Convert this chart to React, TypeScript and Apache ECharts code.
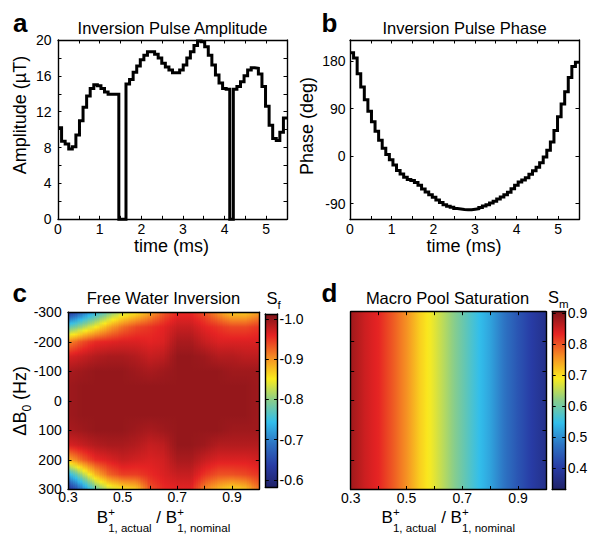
import React, { useEffect, useRef } from "react";
import * as echarts from "echarts";

const FONT = "'Liberation Sans', Arial, Helvetica, sans-serif";

// ---------------- Panel a / b : inversion pulse (64 samples over 5.5 ms) ----------------
const pulseDurationMs = 5.5;
const amplitudeUT = [
  10.2, 8.7, 8.4, 7.85, 8.1, 9.4, 11.0, 12.5, 13.75, 14.6, 15.0, 14.9, 14.6, 14.2, 13.95, 13.95,
  13.95, 0, 0, 15.1, 15.6, 16.4, 17.1, 17.8, 18.3, 18.7, 18.7, 18.4, 18.0, 17.4, 17.0, 16.65,
  16.35, 16.35, 16.65, 17.2, 18.0, 18.7, 19.4, 19.9, 19.8, 19.25, 18.3, 17.2, 16.1, 15.2, 14.6, 14.5,
  0, 14.5, 14.8, 15.35, 16.0, 16.65, 16.9, 16.85, 16.2, 14.8, 12.6, 10.5, 9.0, 8.8, 9.7, 11.3,
];
const phaseDeg = [
  196, 186, 156, 131, 107, 85, 65, 47, 30, 15, 3, -7, -17, -27, -34, -40,
  -44, -46, -50, -55, -62, -68, -73, -78, -83, -88, -92, -95, -97, -99, -100, -101,
  -101.5, -101.5, -100.5, -99.5, -97.3, -94.5, -91.9, -88.7, -85.3, -81.4, -77.3, -72.9, -68.4, -61.6, -54.9, -49,
  -45.2, -40.7, -34.2, -27.8, -20.8, -12.3, -1.7, 11, 26.6, 48.4, 74.5, 99, 121.8, 148.8, 170, 178,
];
const timeTickValues = [0, 0.5, 1, 1.5, 2, 2.5, 3, 3.5, 4, 4.5, 5, 5.5];
const timeLabelValues = [0, 1, 2, 3, 4, 5];
const ampTickValues = [0, 2, 4, 6, 8, 10, 12, 14, 16, 18, 20];
const ampLabelValues = [0, 4, 8, 12, 16, 20];
const phaseTickValues = [-90, 0, 90, 180];
const ampRange = [0, 20];
const phaseRange = [-120, 220];

// ---------------- Panel c / d : maps over B1 ratio and B0 offset ----------------
const b1Ratio = [0.3, 0.35, 0.4, 0.45, 0.5, 0.55, 0.6, 0.65, 0.7, 0.75, 0.8, 0.85, 0.9, 0.95, 1.0];
const b0Hz = [-300, -250, -200, -150, -100, -50, 0, 50, 100, 150, 200, 250, 300];
const freeWaterSf = [
  [-0.62, -0.68, -0.74, -0.79, -0.83, -0.855, -0.89, -0.93, -0.955, -0.955, -0.935, -0.9, -0.87, -0.87, -0.895],
  [-0.77, -0.81, -0.85, -0.89, -0.92, -0.94, -0.95, -0.96, -0.975, -0.975, -0.96, -0.95, -0.94, -0.94, -0.95],
  [-0.905, -0.935, -0.955, -0.96, -0.965, -0.965, -0.96, -0.965, -0.99, -0.99, -0.975, -0.965, -0.965, -0.965, -0.965],
  [-0.965, -0.975, -0.985, -0.99, -0.99, -0.985, -0.975, -0.98, -1.0, -1.0, -0.995, -0.985, -0.985, -0.98, -0.98],
  [-0.99, -0.995, -1.0, -1.0, -1.0, -0.995, -0.99, -0.995, -1.0, -1.0, -1.0, -1.0, -0.995, -0.995, -0.995],
  [-0.995, -1.0, -1.0, -1.0, -1.0, -1.0, -1.0, -1.0, -1.0, -1.0, -1.0, -1.0, -1.0, -1.0, -0.995],
  [-0.995, -1.0, -1.0, -1.0, -1.0, -1.0, -1.0, -1.0, -1.0, -1.0, -1.0, -1.0, -1.0, -1.0, -0.995],
  [-0.995, -1.0, -1.0, -1.0, -1.0, -1.0, -1.0, -1.0, -1.0, -1.0, -1.0, -1.0, -1.0, -1.0, -0.995],
  [-0.99, -0.995, -1.0, -1.0, -1.0, -0.995, -0.99, -0.995, -1.0, -1.0, -1.0, -1.0, -0.995, -0.995, -0.995],
  [-0.965, -0.975, -0.985, -0.99, -0.99, -0.985, -0.975, -0.98, -1.0, -1.0, -0.995, -0.985, -0.985, -0.985, -0.985],
  [-0.885, -0.925, -0.955, -0.965, -0.975, -0.97, -0.965, -0.97, -0.99, -0.99, -0.975, -0.965, -0.965, -0.965, -0.97],
  [-0.73, -0.81, -0.88, -0.925, -0.945, -0.945, -0.955, -0.965, -0.975, -0.975, -0.95, -0.935, -0.935, -0.94, -0.95],
  [-0.61, -0.69, -0.78, -0.83, -0.855, -0.87, -0.935, -0.955, -0.96, -0.96, -0.91, -0.88, -0.86, -0.875, -0.92],
];
const macroPoolSm = [0.88, 0.85, 0.83, 0.795, 0.755, 0.71, 0.675, 0.635, 0.595, 0.555, 0.52, 0.475, 0.435, 0.4, 0.37];
const b1TickValues = [0.3, 0.4, 0.5, 0.6, 0.7, 0.8, 0.9, 1.0];
const b1LabelValues = [0.3, 0.5, 0.7, 0.9];
const b0TickValues = [-300, -200, -100, 0, 100, 200, 300];
const sfRange = [-1.0124, -0.5826];
const sfLabelValues = [-1.0, -0.9, -0.8, -0.7, -0.6];
const smRange = [0.33, 0.904];
const smLabelValues = [0.4, 0.5, 0.6, 0.7, 0.8, 0.9];

// jet-like colour map as it appears in the printed figure (stops at t = k/8)
const colormapStops = [
  [32, 34, 105],
  [40, 60, 165],
  [45, 115, 195],
  [50, 190, 235],
  [135, 205, 140],
  [250, 235, 30],
  [245, 140, 35],
  [230, 35, 35],
  [125, 20, 25],
];

// ---------------- helpers ----------------
function cmap(t: number): string {
  const u = Math.max(0, Math.min(1, t)) * (colormapStops.length - 1);
  const k = Math.min(colormapStops.length - 2, Math.floor(u));
  const f = u - k;
  const a = colormapStops[k], b = colormapStops[k + 1];
  const c = (i: number) => Math.round(a[i] + (b[i] - a[i]) * f);
  return `rgb(${c(0)},${c(1)},${c(2)})`;
}
const sfColor = (v: number) => cmap((sfRange[1] - v) / (sfRange[1] - sfRange[0]));
const smColor = (v: number) => cmap((v - smRange[0]) / (smRange[1] - smRange[0]));

let measureCtx: CanvasRenderingContext2D | null = null;
function measure(text: string, size: number, weight = "normal"): number {
  if (!measureCtx) measureCtx = document.createElement("canvas").getContext("2d");
  measureCtx!.font = `${weight} ${size}px ${FONT}`;
  return measureCtx!.measureText(text).width;
}

function txt(x: number, y: number, text: string, size: number, align = "left", weight = "normal", lineHeight?: number): any {
  return {
    type: "text",
    x,
    y,
    silent: true,
    style: {
      text,
      fontSize: size,
      fontFamily: FONT,
      fontWeight: weight,
      fill: "#000",
      textAlign: align,
      textVerticalAlign: "middle",
      lineHeight: lineHeight ?? Math.round(size),
    },
  };
}

function b1AxisName(cx: number): any[] {
  const F = 17, f = 11.5;
  const yMain = 517.5, ySub = 527.5, ySup = 512;
  const wB = measure("B", F);
  const wS1 = measure("1, actual", f);
  const wSp = measure(" ", F);
  const wMid = measure("/ B", F);
  const wS2 = measure("1, nominal", f);
  const total = wB + wS1 + wSp + wMid + wS2;
  let x = cx - total / 2;
  const out: any[] = [];
  out.push(txt(x, yMain, "B", F, "left", "normal", 13));
  x += wB;
  out.push(txt(x, ySup, "+", f, "left", "normal", 8));
  out.push(txt(x, ySub, "1, actual", f, "left", "normal", 10));
  x += wS1 + wSp;
  out.push(txt(x, yMain, "/ B", F, "left", "normal", 13));
  x += wMid;
  out.push(txt(x, ySup, "+", f, "left", "normal", 8));
  out.push(txt(x, ySub, "1, nominal", f, "left", "normal", 10));
  return out;
}

function b0AxisName(cx: number, cy: number): any {
  const F = 18, f = 12;
  const w1 = measure("\u0394B", F);
  const w0 = measure("0", f);
  const wSp = measure(" ", F);
  const w2 = measure("(Hz)", F);
  const L = w1 + w0 + wSp + w2;
  let lx = -L / 2;
  const children: any[] = [];
  children.push(txt(lx, 0, "\u0394B", F));
  lx += w1;
  children.push(txt(lx, 6.5, "0", f, "left", "normal", 10));
  lx += w0 + wSp;
  children.push(txt(lx, 0, "(Hz)", F));
  return { type: "group", x: cx, y: cy, rotation: Math.PI / 2, children };
}

const axisLine = { show: true, onZero: false, lineStyle: { color: "#000", width: 1.4 } };
function ticks(values: number[] | null): any {
  if (!values) return { show: false };
  return { show: true, inside: true, length: 3.5, customValues: values, lineStyle: { color: "#000", width: 1 } };
}
function labels(values: number[] | null, margin: number, formatter?: (v: number) => string): any {
  if (!values) return { show: false };
  const l: any = { show: true, customValues: values, margin, color: "#000", fontSize: 14, lineHeight: 12, fontFamily: FONT };
  if (formatter) l.formatter = formatter;
  return l;
}
function axisPair(
  kind: "x" | "y",
  grid: number,
  range: number[],
  tickVals: number[] | null,
  labelVals: number[] | null,
  margin: number,
  opts: { inverse?: boolean; formatter?: (v: number) => string; labelOnSecond?: boolean } = {}
): any[] {
  const pos = kind === "x" ? ["bottom", "top"] : ["left", "right"];
  const base = {
    type: "value",
    gridIndex: grid,
    min: range[0],
    max: range[1],
    inverse: !!opts.inverse,
    z: 10,
    axisLine,
    axisTick: ticks(tickVals),
    splitLine: { show: false },
  };
  const first = { ...base, position: pos[0], axisLabel: opts.labelOnSecond ? { show: false } : labels(labelVals, margin, opts.formatter) };
  const second = { ...base, position: pos[1], axisLabel: opts.labelOnSecond ? labels(labelVals, margin, opts.formatter) : { show: false } };
  return [first, second];
}

function buildOption(): any {
  const dt = pulseDurationMs / amplitudeUT.length;
  const ampData = amplitudeUT.map((v, k) => [k * dt, v]);
  ampData.push([pulseDurationMs, amplitudeUT[amplitudeUT.length - 1]]);
  const phaseData = phaseDeg.map((v, k) => [k * dt, v]);
  phaseData.push([pulseDurationMs, phaseDeg[phaseDeg.length - 1]]);

  const nStops = colormapStops.length - 1;
  const colStops = colormapStops.map((_, k) => ({ offset: 1 - k / nStops, color: cmap(k / nStops) })).sort((a, b) => a.offset - b.offset);
  const b1Range = [b1Ratio[0], b1Ratio[b1Ratio.length - 1]];
  const b0Range = [b0Hz[0], b0Hz[b0Hz.length - 1]];
  const fix1 = (v: number) => v.toFixed(1);

  const renderFreeWater = (params: any, api: any) => {
    const i = params.dataIndex;
    const xa = b1Ratio[i], xb = b1Ratio[i + 1];
    const nRows = b0Hz.length;
    const y0 = api.coord([xa, b0Hz[0]])[1];
    const y1 = api.coord([xa, b0Hz[nRows - 1]])[1];
    const top = Math.min(y0, y1), H = Math.abs(y1 - y0);
    const N = 8, SUB = 4;
    const children: any[] = [];
    for (let s = 0; s < N; s++) {
      const fm = (s + 0.5) / N;
      const px0 = Math.round(api.coord([xa + ((xb - xa) * s) / N, b0Hz[0]])[0]);
      const px1 = Math.round(api.coord([xa + ((xb - xa) * (s + 1)) / N, b0Hz[0]])[0]);
      if (px1 <= px0) continue;
      const col = freeWaterSf.map((row) => row[i] * (1 - fm) + row[i + 1] * fm);
      const stops: any[] = [];
      for (let j = 0; j < nRows; j++) {
        const sub = j < nRows - 1 ? SUB : 1;
        for (let q = 0; q < sub; q++) {
          const fr = q / SUB;
          const v = j < nRows - 1 ? col[j] + (col[j + 1] - col[j]) * fr : col[j];
          const yv = j < nRows - 1 ? b0Hz[j] + (b0Hz[j + 1] - b0Hz[j]) * fr : b0Hz[j];
          const py = api.coord([xa, yv])[1];
          stops.push({ offset: (py - top) / H, color: sfColor(v) });
        }
      }
      stops.sort((a, b) => a.offset - b.offset);
      children.push({
        type: "rect",
        shape: { x: px0, y: top, width: px1 - px0, height: H },
        style: { fill: { type: "linear", x: 0, y: 0, x2: 0, y2: 1, colorStops: stops, global: false } },
      });
    }
    return { type: "group", children };
  };

  const renderMacro = (params: any, api: any) => {
    const i = params.dataIndex;
    const p0 = api.coord([b1Ratio[i], b0Hz[0]]);
    const p1 = api.coord([b1Ratio[i + 1], b0Hz[b0Hz.length - 1]]);
    const stops: any[] = [];
    for (let q = 0; q <= 4; q++) {
      const f = q / 4;
      stops.push({ offset: f, color: smColor(macroPoolSm[i] * (1 - f) + macroPoolSm[i + 1] * f) });
    }
    const x0 = Math.round(Math.min(p0[0], p1[0]));
    const x1 = Math.round(Math.max(p0[0], p1[0]));
    return {
      type: "rect",
      shape: { x: x0, y: Math.min(p0[1], p1[1]), width: x1 - x0, height: Math.abs(p1[1] - p0[1]) },
      style: { fill: { type: "linear", x: 0, y: 0, x2: 1, y2: 0, colorStops: stops, global: false } },
    };
  };

  const renderBar = (params: any, api: any) => {
    const p0 = api.coord([api.value(0), api.value(1)]);
    const p1 = api.coord([api.value(2), api.value(3)]);
    return {
      type: "rect",
      shape: { x: Math.min(p0[0], p1[0]), y: Math.min(p0[1], p1[1]), width: Math.abs(p1[0] - p0[0]), height: Math.abs(p1[1] - p0[1]) },
      style: { fill: { type: "linear", x: 0, y: 0, x2: 0, y2: 1, colorStops: colStops, global: false } },
    };
  };

  const grid = [
    { left: 58, top: 40, width: 229, height: 179.3 },
    { left: 350, top: 40, width: 229, height: 179.5 },
    { left: 68, top: 312.3, width: 191.3, height: 177 },
    { left: 265.3, top: 314, width: 12.2, height: 173 },
    { left: 350.7, top: 311.7, width: 195.3, height: 177.8 },
    { left: 552.2, top: 311.7, width: 13.5, height: 177.8 },
  ];

  const xAxis = [
    ...axisPair("x", 0, [0, pulseDurationMs], timeTickValues, timeLabelValues, 3.5),
    ...axisPair("x", 1, [0, pulseDurationMs], timeTickValues, timeLabelValues, 3.5),
    ...axisPair("x", 2, b1Range, b1TickValues, b1LabelValues, 2, { formatter: fix1 }),
    ...axisPair("x", 3, [0, 1], null, null, 0),
    ...axisPair("x", 4, b1Range, b1TickValues, b1LabelValues, 2, { formatter: fix1 }),
    ...axisPair("x", 5, [0, 1], null, null, 0),
  ];
  const yAxis = [
    ...axisPair("y", 0, ampRange, ampTickValues, ampLabelValues, 6.5),
    ...axisPair("y", 1, phaseRange, phaseTickValues, phaseTickValues, 4.5),
    ...axisPair("y", 2, b0Range, b0TickValues, b0TickValues, 6.3, { inverse: true }),
    ...axisPair("y", 3, sfRange, sfLabelValues, sfLabelValues, 2, { inverse: true, formatter: fix1, labelOnSecond: true }),
    ...axisPair("y", 4, b0Range, b0TickValues, null, 0, { inverse: true }),
    ...axisPair("y", 5, smRange, smLabelValues, smLabelValues, 2, { formatter: fix1, labelOnSecond: true }),
  ];

  const lineStyle = { color: "#000", width: 3, join: "miter" };
  const series: any[] = [
    { type: "line", xAxisIndex: 0, yAxisIndex: 0, data: ampData, step: "end", showSymbol: false, clip: false, lineStyle, z: 5 },
    { type: "line", xAxisIndex: 2, yAxisIndex: 2, data: phaseData, step: "end", showSymbol: false, clip: false, lineStyle, z: 5 },
    {
      type: "custom",
      xAxisIndex: 4,
      yAxisIndex: 4,
      renderItem: renderFreeWater,
      data: b1Ratio.slice(0, -1).map((x, i) => [x, b1Ratio[i + 1], b0Range[0], b0Range[1]]),
      encode: { x: [0, 1], y: [2, 3] },
      silent: true,
    },
    {
      type: "custom",
      xAxisIndex: 6,
      yAxisIndex: 7,
      renderItem: renderBar,
      data: [[0, sfRange[0], 1, sfRange[1]]],
      encode: { x: [0, 2], y: [1, 3] },
      silent: true,
    },
    {
      type: "custom",
      xAxisIndex: 8,
      yAxisIndex: 8,
      renderItem: renderMacro,
      data: b1Ratio.slice(0, -1).map((x, i) => [x, b1Ratio[i + 1], b0Range[0], b0Range[1]]),
      encode: { x: [0, 1], y: [2, 3] },
      silent: true,
    },
    {
      type: "custom",
      xAxisIndex: 10,
      yAxisIndex: 11,
      renderItem: renderBar,
      data: [[0, smRange[0], 1, smRange[1]]],
      encode: { x: [0, 2], y: [1, 3] },
      silent: true,
    },
  ];

  const elements: any[] = [
    // panel letters
    txt(13, 22.6, "a", 26, "left", "bold"),
    txt(321.5, 22.6, "b", 26, "left", "bold"),
    txt(12.5, 292.6, "c", 26, "left", "bold"),
    txt(321.5, 292.6, "d", 26, "left", "bold"),
    // titles
    txt(172.5, 27.5, "Inversion Pulse Amplitude", 16.5, "center"),
    txt(464.5, 27.5, "Inversion Pulse Phase", 16.5, "center"),
    txt(163.5, 297.5, "Free Water Inversion", 16.5, "center"),
    txt(447.5, 297.5, "Macro Pool Saturation", 16.5, "center"),
    // colorbar labels
    txt(266.5, 297.5, "S", 16.5, "left", "normal", 14),
    txt(266.5 + measure("S", 16.5), 305, "f", 11.5, "left", "normal", 10),
    txt(548, 297.2, "S", 16.5, "left", "normal", 14),
    txt(548 + measure("S", 16.5), 304.4, "m", 11.5, "left", "normal", 10),
    // axis names
    txt(171.5, 246, "time (ms)", 18, "center", "normal", 14),
    txt(464, 246, "time (ms)", 18, "center", "normal", 14),
    { ...txt(0, 0, "Amplitude (\u00b5T)", 18, "center"), x: 20.4, y: 115, rotation: Math.PI / 2 },
    { ...txt(0, 0, "Phase (deg)", 18, "center"), x: 306.7, y: 126, rotation: Math.PI / 2 },
    b0AxisName(20.4, 400.8),
    ...b1AxisName(163.5),
    ...b1AxisName(448.3),
  ];

  return {
    animation: false,
    backgroundColor: "#fff",
    textStyle: { fontFamily: FONT },
    grid,
    xAxis,
    yAxis,
    series,
    graphic: { elements },
  };
}

export default function App() {
  const ref = useRef<HTMLDivElement>(null);
  useEffect(() => {
    if (!ref.current) return;
    const chart = echarts.init(ref.current, undefined, { renderer: "svg" });
    chart.setOption(buildOption());
    return () => chart.dispose();
  }, []);
  return (
    <div
      ref={ref}
      style={{ position: "absolute", left: 0, top: 0, width: 601, height: 550, background: "#fff" }}
    />
  );
}
